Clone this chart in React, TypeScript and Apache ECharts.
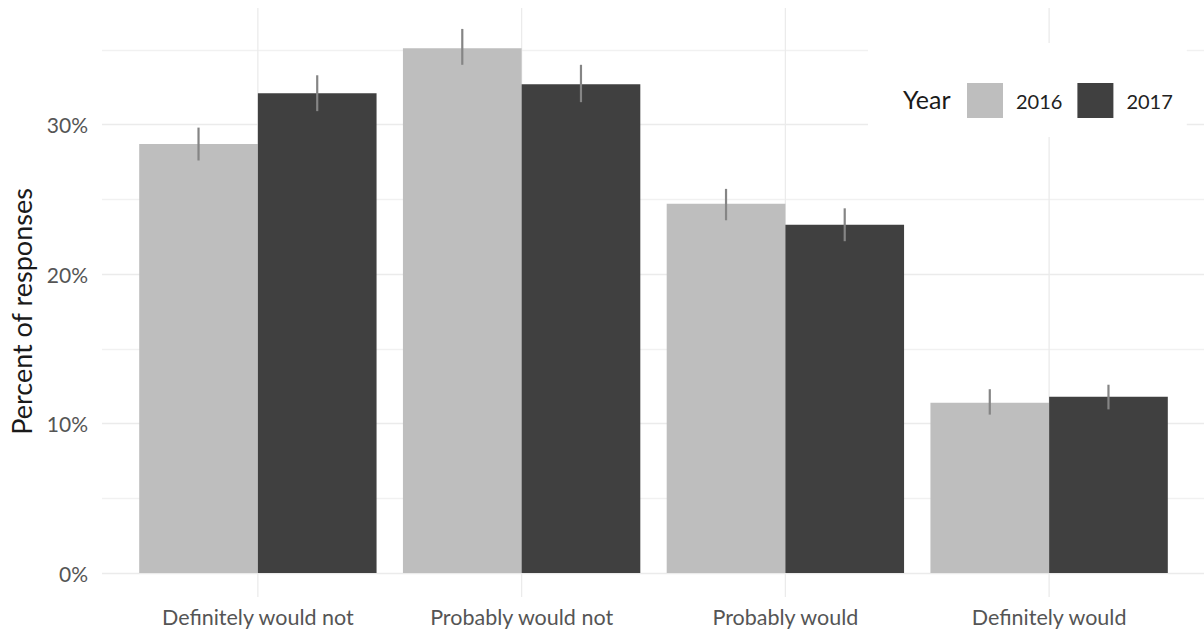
import React, { useEffect, useRef } from "react";
import * as echarts from "echarts";

const categories = ["Definitely would not", "Probably would not", "Probably would", "Definitely would"];
const years = ["2016", "2017"];
const values2016 = [28.7, 35.1, 24.7, 11.4];
const values2017 = [32.1, 32.7, 23.3, 11.8];
const low2016 = [27.6, 34.0, 23.6, 10.6];
const high2016 = [29.8, 36.4, 25.7, 12.3];
const low2017 = [30.9, 31.5, 22.2, 10.95];
const high2017 = [33.3, 34.0, 24.4, 12.6];
const yTicks = [0, 5, 10, 15, 20, 25, 30, 35];

const W = 1204;
const H = 635;
const PANEL_TOP = 8;
const PANEL_BOTTOM = 597;
const Y_MIN = -1.6;
const Y_MAX = 37.8;
const PX_PER = (PANEL_BOTTOM - PANEL_TOP) / (Y_MAX - Y_MIN);
const yPix = (v: number) => PANEL_BOTTOM - (v - Y_MIN) * PX_PER;

const FONT = "Lato, 'Noto Sans', sans-serif";
const C2016 = "#bebebe";
const C2017 = "#404040";
const GRID_C = "#ebebeb";

export default function App() {
  const ref = useRef<HTMLDivElement>(null);
  useEffect(() => {
    if (!ref.current) return;
    const chart = echarts.init(ref.current, null, { renderer: "svg" });
    const errRender = (sign: number) => (params: any, api: any) => {
      const idx = api.value(0);
      const a = api.coord([idx, api.value(1)]);
      const b = api.coord([idx, api.value(2)]);
      const bw = api.size([1, 0])[0];
      const x = a[0] + sign * bw * 0.225;
      return {
        type: "line",
        shape: { x1: x, y1: a[1], x2: x, y2: b[1] },
        style: { stroke: "#858585", lineWidth: 2.2 },
      };
    };
    const option: any = {
      animation: false,
      backgroundColor: "#ffffff",
      textStyle: { fontFamily: FONT },
      grid: [
        { left: 126, right: 23, top: PANEL_TOP, bottom: H - PANEL_BOTTOM },
        { left: 100, right: 0, top: yPix(35), bottom: H - yPix(0) },
      ],
      xAxis: [
        {
          type: "category",
          gridIndex: 0,
          data: categories,
          axisLine: { show: false },
          axisTick: { show: false },
          splitLine: { show: false },
          axisLabel: { color: "#555555", fontSize: 21.5, fontFamily: FONT, margin: 9 },
        },
        { type: "value", gridIndex: 1, show: false, min: 0, max: 1 },
      ],
      yAxis: [
        { type: "value", gridIndex: 0, min: Y_MIN, max: Y_MAX, show: false },
        {
          type: "value",
          gridIndex: 1,
          min: yTicks[0],
          max: yTicks[yTicks.length - 1],
          interval: 5,
          axisLine: { show: false },
          axisTick: { show: false },
          axisLabel: {
            color: "#555555",
            fontSize: 21,
            fontFamily: FONT,
            margin: 14,
            formatter: (v: number) => (v % 10 === 0 ? v + "%" : ""),
          },
          splitLine: { show: true, lineStyle: { color: [GRID_C, "#f1f1f1"], width: 1.3 } },
          name: "Percent of responses",
          nameLocation: "middle",
          nameGap: 67,
          nameTextStyle: { color: "#1a1a1a", fontSize: 27, fontFamily: FONT },
        },
      ],
      legend: {
        left: 868,
        top: 43,
        orient: "horizontal",
        backgroundColor: "#ffffff",
        padding: [40, 14, 19, 99],
        itemWidth: 36,
        itemHeight: 35,
        itemGap: 15,
        icon: "rect",
        data: years,
        textStyle: { color: "#222222", fontSize: 20, fontFamily: FONT, padding: [0, 0, 0, 8] },
        selectedMode: false,
      },
      graphic: [
        {
          type: "text",
          z: 100,
          left: 903,
          top: 86,
          style: { text: "Year", fontSize: 25, fontFamily: FONT, fill: "#1a1a1a" },
        },
      ],
      series: [
        {
          type: "custom",
          xAxisIndex: 0,
          yAxisIndex: 0,
          z: 1,
          silent: true,
          data: categories.map((_, i) => [i]),
          renderItem: (params: any, api: any) => {
            const x = api.coord([api.value(0), 0])[0];
            const cs = params.coordSys;
            return {
              type: "line",
              shape: { x1: x, y1: cs.y, x2: x, y2: cs.y + cs.height },
              style: { stroke: GRID_C, lineWidth: 1.3 },
            };
          },
        },
        {
          name: years[0],
          type: "bar",
          xAxisIndex: 0,
          yAxisIndex: 0,
          data: values2016,
          barGap: "0%",
          barCategoryGap: "10%",
          itemStyle: { color: C2016 },
          z: 2,
        },
        {
          name: years[1],
          type: "bar",
          xAxisIndex: 0,
          yAxisIndex: 0,
          data: values2017,
          barGap: "0%",
          barCategoryGap: "10%",
          itemStyle: { color: C2017 },
          z: 2,
        },
        {
          type: "custom",
          xAxisIndex: 0,
          yAxisIndex: 0,
          z: 3,
          silent: true,
          data: categories.map((_, i) => [i, low2016[i], high2016[i]]),
          renderItem: errRender(-1),
        },
        {
          type: "custom",
          xAxisIndex: 0,
          yAxisIndex: 0,
          z: 3,
          silent: true,
          data: categories.map((_, i) => [i, low2017[i], high2017[i]]),
          renderItem: errRender(1),
        },
      ],
    };
    chart.setOption(option);
    return () => chart.dispose();
  }, []);
  return (
    <div
      ref={ref}
      style={{ position: "absolute", left: 0, top: 0, width: W, height: H, background: "#fff" }}
    />
  );
}
